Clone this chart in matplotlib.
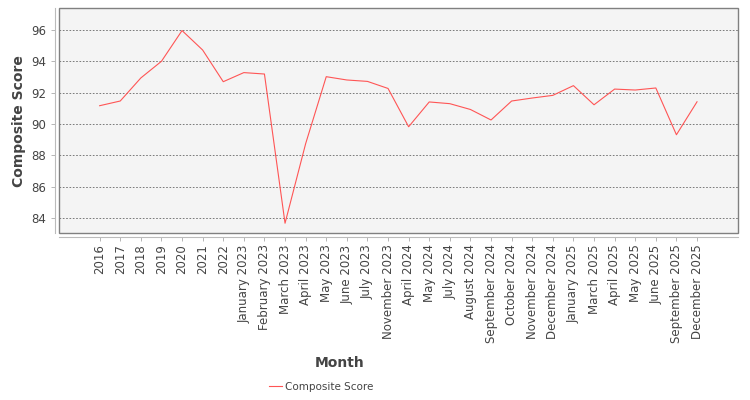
import matplotlib
matplotlib.use("Agg")
import matplotlib.pyplot as plt
from matplotlib.patches import Rectangle

months = [
    "2016", "2017", "2018", "2019", "2020", "2021", "2022",
    "January 2023", "February 2023", "March 2023", "April 2023", "May 2023",
    "June 2023", "July 2023", "November 2023", "April 2024", "May 2024",
    "July 2024", "August 2024", "September 2024", "October 2024",
    "November 2024", "December 2024", "January 2025", "March 2025",
    "April 2025", "May 2025", "June 2025", "September 2025", "December 2025",
]
scores = [
    91.17, 91.47, 92.94, 94.00, 95.96, 94.72, 92.70,
    93.28, 93.19, 83.68, 88.75, 93.02,
    92.81, 92.72, 92.27, 89.83, 91.41,
    91.30, 90.93, 90.26, 91.47,
    91.66, 91.83, 92.45, 91.23,
    92.23, 92.17, 92.30, 89.32, 91.42,
]
yticks = [84, 86, 88, 90, 92, 94, 96]

fig = plt.figure(figsize=(7.5, 4), dpi=100)
ax = fig.add_axes([0.0793, 0.4168, 0.905, 0.5633])
ax.set_facecolor("#f4f4f4")

# frame around plot area, axis lines sit a few pixels outside
# (set spine positions first: it resets the tick labels)
for side in ["top", "right"]:
    ax.spines[side].set_visible(False)
for side in ["left", "bottom"]:
    ax.spines[side].set_position(("outward", 3))
    ax.spines[side].set_color("#bbbbbb")
    ax.spines[side].set_linewidth(0.8)
ax.add_patch(Rectangle((0, 0), 1, 1, transform=ax.transAxes, fill=False,
                       edgecolor="#808080", lw=1.0, clip_on=False, zorder=5))

x = list(range(len(months)))
ax.plot(x, scores, color="#ff5555", lw=0.8, label="Composite Score")

ax.set_xlim(-1.95, 31.0)
ax.set_ylim(83.04, 97.4)
ax.set_yticks(yticks)
ax.set_xticks(x)
ax.set_xticklabels(months, rotation=90, fontsize=8.5, color="#444444")
ax.tick_params(axis="y", labelsize=8.5, labelcolor="#444444", length=3,
               color="#aaaaaa", width=0.6)
ax.tick_params(axis="x", length=3, color="#aaaaaa", width=0.6, pad=2)

ax.grid(axis="y", color="#666666", linestyle=(0, (2, 2)), lw=0.6)
ax.set_axisbelow(True)

ax.set_ylabel("Composite Score", fontsize=10, fontweight="bold",
              color="#444444", labelpad=4)
fig.text(340 / 750, 1 - 363 / 400, "Month", ha="center", va="center",
         fontsize=10, fontweight="bold", color="#444444")

handles, labels = ax.get_legend_handles_labels()
fig.legend(handles, labels, loc="center", bbox_to_anchor=(321 / 750, 1 - 387 / 400),
           frameon=False, fontsize=7.5, handlelength=1.2, handletextpad=0.3,
           labelcolor="#444444")

fig.savefig("out.png", dpi=100)
